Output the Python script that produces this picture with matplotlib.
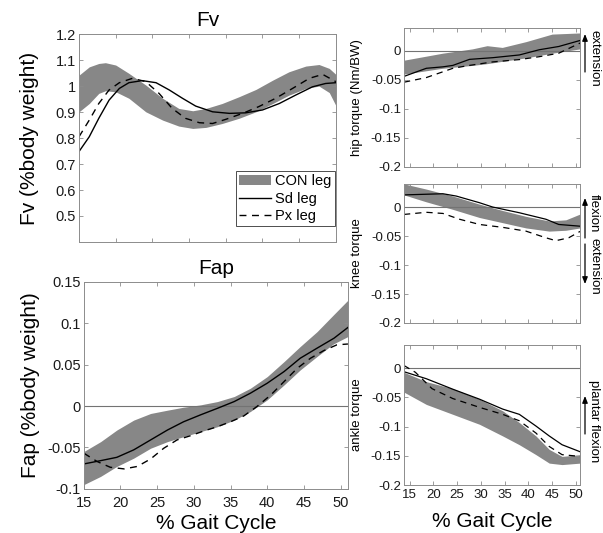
import numpy as np
import matplotlib
matplotlib.use('Agg')
import matplotlib.pyplot as plt

plt.rcParams['font.family'] = ['Liberation Sans', 'DejaVu Sans']
plt.rcParams['axes.unicode_minus'] = False

# ---- Fv (vertical GRF) ----
fv_band_x = [15, 16.4, 17.7, 18.6, 20, 21.8, 24.1, 26.4, 28.6, 30.5, 32.3, 34.5,
             36.8, 39.1, 41.4, 43.6, 45.9, 47.7, 49.1, 50]
fv_band_hi = [1.042, 1.074, 1.087, 1.09, 1.081, 1.049, 1.004, 0.953, 0.914, 0.905, 0.914, 0.933,
              0.959, 0.987, 1.023, 1.055, 1.077, 1.083, 1.068, 1.045]
fv_band_lo = [0.901, 0.933, 0.972, 0.982, 0.978, 0.953, 0.901, 0.869, 0.846, 0.837, 0.841, 0.856,
              0.876, 0.901, 0.933, 0.965, 0.991, 1.0, 0.975, 0.925]
fv_sd_x = [15, 16.4, 17.7, 19.1, 20.5, 21.8, 23.6, 25.5, 27.3, 29.1, 30.9, 33.2, 35.5,
           37.7, 40, 42.3, 44.5, 46.8, 48.6, 50]
fv_sd = [0.748, 0.805, 0.876, 0.946, 0.991, 1.013, 1.021, 1.013, 0.985, 0.953, 0.923, 0.901, 0.895,
         0.897, 0.908, 0.933, 0.965, 0.997, 1.01, 1.013]
fv_px_x = [15, 16.4, 17.7, 19.1, 20.5, 22.3, 24.1, 25.9, 27.7, 29.5, 31.4, 33.2, 35,
           37.3, 39.5, 41.8, 44.1, 46.4, 48.2, 50]
fv_px = [0.805, 0.869, 0.933, 0.985, 1.013, 1.03, 1.017, 0.972, 0.914, 0.876, 0.859, 0.856, 0.872,
         0.895, 0.921, 0.953, 0.991, 1.03, 1.045, 1.017]
fv_ticks = [0.5, 0.6, 0.7, 0.8, 0.9, 1.0, 1.1, 1.2]
fv_ticklabels = ['0.5', '0.6', '0.7', '0.8', '0.9', '1', '1.1', '1.2']

# ---- Fap (anterior-posterior GRF) ----
fap_band_x = [15, 17.3, 19.5, 21.8, 24.1, 26.4, 28.6, 30.9, 33.2, 35.5, 37.7, 40, 42.3,
              44.5, 46.8, 49, 51]
fap_band_hi = [-0.055, -0.043, -0.029, -0.017, -0.009, -0.005, -0.0014, 0.0014, 0.0054, 0.0115,
               0.0215, 0.0356, 0.0538, 0.072, 0.09, 0.11, 0.128]
fap_band_lo = [-0.095, -0.085, -0.073, -0.063, -0.051, -0.043, -0.037, -0.031, -0.025, -0.017,
               -0.0066, 0.0075, 0.0256, 0.0437, 0.06, 0.075, 0.084]
fap_sd_x = [15, 17.3, 19.5, 21.8, 24.1, 26.4, 28.6, 30.9, 33.2, 35.5, 37.7, 40, 42.3,
            44.5, 46.8, 49.1, 51]
fap_sd = [-0.070, -0.066, -0.062, -0.053, -0.041, -0.029, -0.019, -0.0107, -0.0028, 0.0054,
          0.0155, 0.0276, 0.0417, 0.0578, 0.070, 0.082, 0.095]
fap_px_x = [15, 16.8, 18.6, 20.5, 22.3, 24.1, 25.9, 27.7, 29.5, 31.4, 33.2, 35, 36.8, 38.6,
            40.5, 42.3, 44.1, 45.9, 47.7, 49.5, 51]
fap_px = [-0.057, -0.067, -0.074, -0.076, -0.073, -0.064, -0.051, -0.041, -0.036, -0.030, -0.025,
          -0.019, -0.012, -0.0006, 0.0135, 0.0296, 0.0457, 0.0578, 0.067, 0.074, 0.075]
fap_ticks = [-0.1, -0.05, 0, 0.05, 0.1, 0.15]
fap_ticklabels = ['-0.1', '-0.05', '0', '0.05', '0.1', '0.15']

# ---- joint torques ----
hip_band_x = [13.8, 21.9, 28.2, 31.3, 34.5, 39.5, 45, 50.9]
hip_band_hi = [-0.016, -0.004, 0.0035, 0.009, 0.006, 0.016, 0.029, 0.031]
hip_band_lo = [-0.040, -0.030, -0.025, -0.022, -0.018, -0.012, -0.004, 0.0035]
hip_sd_x = [13.8, 18.5, 22, 24.1, 27.6, 32.5, 38.1, 42.3, 46.4, 50.9]
hip_sd = [-0.044, -0.030, -0.0275, -0.025, -0.0146, -0.0117, -0.007, 0.002, 0.0076, 0.018]
hip_px_x = [13.8, 18.5, 24.1, 27.6, 32.5, 38.1, 42.3, 46.4, 50.9]
hip_px = [-0.054, -0.046, -0.030, -0.025, -0.019, -0.015, -0.010, -0.004, 0.0135]

knee_band_x = [13.8, 18.5, 24.1, 29.7, 34.6, 39.5, 44.4, 47.9, 50.9]
knee_band_hi = [0.040, 0.031, 0.019, 0.005, -0.006, -0.016, -0.024, -0.022, -0.012]
knee_band_lo = [0.021, 0.009, -0.004, -0.018, -0.027, -0.036, -0.0415, -0.040, -0.036]
knee_sd_x = [13.8, 22, 24.8, 29.7, 32.5, 38.1, 43.7, 46.4, 50.9]
knee_sd = [0.021, 0.023, 0.019, 0.0075, 0.0, -0.0098, -0.021, -0.030, -0.033]
knee_px_x = [13.8, 18.5, 22, 25.5, 29.7, 34.6, 39.5, 43.7, 45.8, 48.5, 50.9]
knee_px = [-0.0127, -0.009, -0.011, -0.021, -0.030, -0.035, -0.0415, -0.053, -0.058, -0.053, -0.042]

ankle_band_x = [13.8, 18.5, 24.1, 29.7, 34.6, 38.1, 41.6, 44.4, 47.1, 50.9]
ankle_band_hi = [-0.007, -0.023, -0.035, -0.053, -0.073, -0.093, -0.116, -0.139, -0.151, -0.148]
ankle_band_lo = [-0.041, -0.062, -0.079, -0.096, -0.116, -0.131, -0.148, -0.1625, -0.165, -0.1625]
ankle_sd_x = [13.8, 18.5, 24.1, 29.7, 34.6, 38.1, 41.6, 44.4, 47.1, 50.9]
ankle_sd = [-0.006, -0.018, -0.036, -0.053, -0.070, -0.079, -0.099, -0.116, -0.131, -0.143]
ankle_px_x = [13.8, 16.2, 19.7, 24.1, 29.7, 34.6, 38.1, 41.6, 44.4, 47.1, 50.9]
ankle_px = [0.0046, -0.007, -0.035, -0.052, -0.067, -0.079, -0.090, -0.111, -0.134, -0.148, -0.151]

torque_ticks = [-0.2, -0.15, -0.1, -0.05, 0]
torque_ticklabels = ['-0.2', '-0.15', '-0.1', '-0.05', '0']
gait_ticks = [15, 20, 25, 30, 35, 40, 45, 50]

band_col = '#878787'
dash = (5, 4)

fig = plt.figure(figsize=(6.03, 5.33), dpi=100)


def style(ax, size=10.5):
    for s in ax.spines.values():
        s.set_color('0.55')
        s.set_linewidth(0.7)
    ax.tick_params(direction='in', top=True, right=True, length=3, width=0.6,
                   color='0.55', labelcolor='0.1', labelsize=size, pad=2)
    ax.tick_params(axis='x', pad=5)


# Fv
ax1 = fig.add_axes([0.131, 0.546, 0.426, 0.390])
ax1.fill_between(fv_band_x, fv_band_lo, fv_band_hi, color=band_col, lw=0, label='CON leg')
ax1.plot(fv_sd_x, fv_sd, color='k', lw=1.0, label='Sd leg')
ax1.plot(fv_px_x, fv_px, color='k', lw=1.0, dashes=dash, label='Px leg')
ax1.set_xlim(15, 50)
ax1.set_ylim(0.4, 1.2)
ax1.set_xticks(gait_ticks)
ax1.set_xticklabels([])
ax1.set_yticks(fv_ticks)
ax1.set_yticklabels(fv_ticklabels)
ax1.set_ylabel('Fv (%body weight)', fontsize=15)
ax1.yaxis.set_label_coords(-0.155, 0.5)
ax1.set_title('Fv', fontsize=15, pad=6)
style(ax1)
leg = ax1.legend(loc='lower right', bbox_to_anchor=(0.995, 0.075), borderaxespad=0,
                 fancybox=False, framealpha=1, edgecolor='0.3', fontsize=10.5,
                 handlelength=2.2, handletextpad=0.3, borderpad=0.2, labelspacing=0.25)
leg.get_frame().set_linewidth(0.7)

# Fap
ax2 = fig.add_axes([0.139, 0.083, 0.438, 0.388])
ax2.fill_between(fap_band_x, fap_band_lo, fap_band_hi, color=band_col, lw=0)
ax2.axhline(0, color='0.45', lw=0.8)
ax2.plot(fap_sd_x, fap_sd, color='k', lw=1.0)
ax2.plot(fap_px_x, fap_px, color='k', lw=1.0, dashes=dash)
ax2.set_xlim(15, 51)
ax2.set_ylim(-0.1, 0.15)
ax2.set_xticks(gait_ticks)
ax2.set_yticks(fap_ticks)
ax2.set_yticklabels(fap_ticklabels)
ax2.set_ylabel('Fap (%body weight)', fontsize=15)
ax2.yaxis.set_label_coords(-0.166, 0.5)
ax2.set_xlabel('% Gait Cycle', fontsize=15, labelpad=3)
ax2.set_title('Fap', fontsize=15, pad=6)
style(ax2)

# torques
panels = [
    ([0.670, 0.687, 0.292, 0.261], hip_band_x, hip_band_lo, hip_band_hi,
     hip_sd_x, hip_sd, hip_px_x, hip_px, 'hip torque (Nm/BW)'),
    ([0.670, 0.394, 0.292, 0.261], knee_band_x, knee_band_lo, knee_band_hi,
     knee_sd_x, knee_sd, knee_px_x, knee_px, 'knee torque'),
    ([0.670, 0.090, 0.292, 0.263], ankle_band_x, ankle_band_lo, ankle_band_hi,
     ankle_sd_x, ankle_sd, ankle_px_x, ankle_px, 'ankle torque'),
]
raxes = []
for rect, bx, blo, bhi, sx, sy, px, py, lab in panels:
    ax = fig.add_axes(rect)
    ax.fill_between(bx, blo, bhi, color=band_col, lw=0)
    ax.axhline(0, color='0.45', lw=0.8)
    ax.plot(sx, sy, color='k', lw=0.9)
    ax.plot(px, py, color='k', lw=0.9, dashes=dash)
    ax.set_xlim(13.8, 50.9)
    ax.set_ylim(-0.2, 0.04)
    ax.set_xticks(gait_ticks)
    ax.set_yticks(torque_ticks)
    ax.set_yticklabels(torque_ticklabels)
    ax.set_ylabel(lab, fontsize=9.5)
    ax.yaxis.set_label_coords(-0.235, 0.5)
    style(ax, 9.5)
    ax.tick_params(axis='x', pad=3)
    raxes.append(ax)
raxes[0].set_xticklabels([])
raxes[1].set_xticklabels([])
raxes[2].set_xlabel('% Gait Cycle', fontsize=15, labelpad=8)

# direction arrows / labels on the right
W, H = 603.0, 533.0


def arrow(x, y0, y1):
    fig.add_artist(matplotlib.patches.FancyArrowPatch(
        (x / W, 1 - y0 / H), (x / W, 1 - y1 / H), transform=fig.transFigure,
        arrowstyle='-|>,head_length=4,head_width=1.6', color='k', lw=0.9,
        shrinkA=0, shrinkB=0))


def side_text(s, x, y):
    fig.text(x / W, 1 - y / H, s, rotation=270, ha='center', va='center', fontsize=9.5)


arrow(585, 72, 34)
side_text('extension', 594, 58)
arrow(585, 238, 198)
side_text('flexion', 594, 213)
arrow(585, 244, 284)
side_text('extension', 594, 266)
arrow(585, 434, 396)
side_text('plantar flexion', 594, 421)

fig.savefig('out.png', dpi=100)
